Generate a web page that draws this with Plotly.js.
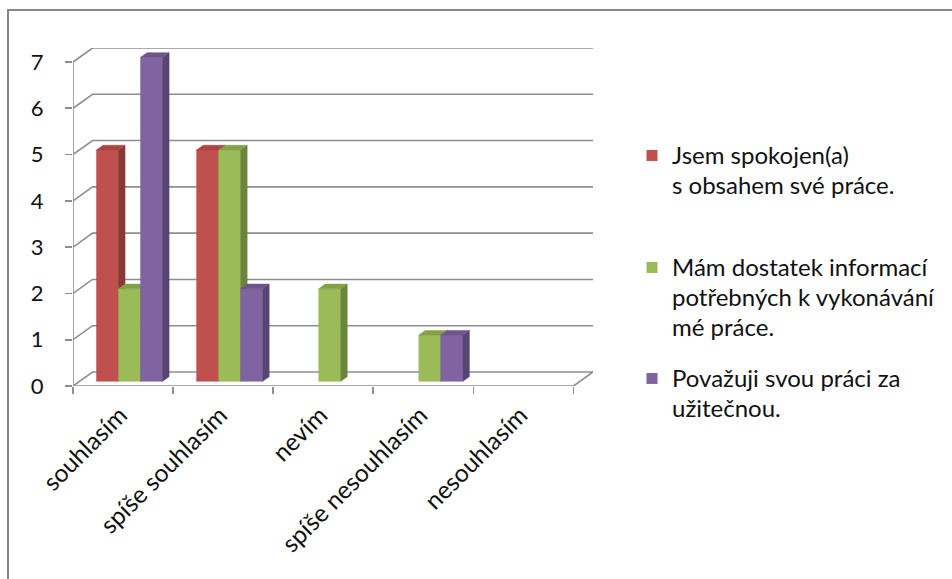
<!DOCTYPE html>
<html>
<head>
<meta charset="utf-8">
<script src="https://cdn.plot.ly/plotly-3.0.1.min.js"></script>
<style>
  html, body { margin: 0; padding: 0; background: #fff; }
  #chart { width: 952px; height: 579px; }
</style>
</head>
<body>
<div id="chart"></div>
<script>
// Answer categories (x axis)
const categories = ['souhlasím', 'spíše souhlasím', 'nevím', 'spíše nesouhlasím', 'nesouhlasím'];

// Series labels (legend, one array entry per text line)
const labelSpokojen = ['Jsem spokojen(a)', 's obsahem své práce.'];
const labelInformace = ['Mám dostatek informací', 'potřebných k vykonávání', 'mé práce.'];
const labelUzitecna = ['Považuji svou práci za', 'užitečnou.'];

// Counts of answers per category
const spokojen = [5, 5, 0, 0, 0];
const informace = [2, 5, 2, 1, 0];
const uzitecna = [7, 2, 0, 1, 0];

// Value axis ticks
const yTicks = [0, 1, 2, 3, 4, 5, 6, 7];

// ---- 3D projection settings (in axis units) ----
const DX = 0.195;   // horizontal shift of the back wall
const DY = 0.3024;  // vertical shift of the back wall
const GROUP = 0.66; // width of a bar cluster inside one category
const FONT = 'Lato, "Open Sans", sans-serif';
const TEXT = '#111';
const GRID = '#8e8e8e';

const series = [
  { lines: labelSpokojen, values: spokojen, front: '#C0504D', top: '#A94542', side: '#8A3836' },
  { lines: labelInformace, values: informace, front: '#9BBB59', top: '#84A049', side: '#6B853C' },
  { lines: labelUzitecna, values: uzitecna, front: '#8064A2', top: '#6D558B', side: '#594573' }
];

const nCat = categories.length;
const xLeft = -0.5, xRight = nCat - 0.5;
const bw = GROUP / series.length;
const dBar = DX / 3, hBar = DY / 3;   // bars stand in the middle third of the floor depth

const traces = [];

// back wall gridlines with their slant on the left side wall
const gx = [], gy = [];
yTicks.forEach(v => {
  gx.push(xLeft, xLeft + DX, xRight + DX, null);
  gy.push(v, v + DY, v + DY, null);
});
traces.push({ x: gx, y: gy, type: 'scatter', mode: 'lines', hoverinfo: 'skip',
  line: { color: GRID, width: 1.6 }, showlegend: false });

// front floor edge, right floor edge and the value axis line
const yMax = yTicks[yTicks.length - 1];
traces.push({
  x: [xLeft, xRight, xRight + DX, null, xLeft, xLeft],
  y: [0, 0, DY, null, 0, yMax],
  type: 'scatter', mode: 'lines', hoverinfo: 'skip', xaxis: 'x2',
  line: { color: GRID, width: 1.6 }, showlegend: false
});

// bars: front, side and top faces as filled polygons, drawn series by series
series.forEach((s, si) => {
  const f = { x: [], y: [] }, sd = { x: [], y: [] }, tp = { x: [], y: [] };
  s.values.forEach((v, ci) => {
    if (!v) return;
    const x0 = ci - GROUP / 2 + si * bw + dBar;
    const x1 = x0 + bw;
    const b = hBar, t = hBar + v;
    f.x.push(x0, x1, x1, x0, x0, null);
    f.y.push(b, b, t, t, b, null);
    sd.x.push(x1, x1 + dBar, x1 + dBar, x1, x1, null);
    sd.y.push(b, b + hBar, t + hBar, t, b, null);
    tp.x.push(x0, x1, x1 + dBar, x0 + dBar, x0, null);
    tp.y.push(t, t, t + hBar, t + hBar, t, null);
  });
  [[f, s.front], [sd, s.side], [tp, s.top]].forEach(([poly, col]) => {
    traces.push({ x: poly.x, y: poly.y, type: 'scatter', mode: 'lines', fill: 'toself',
      fillcolor: col, line: { color: col, width: 0.5 }, hoverinfo: 'skip', showlegend: false });
  });
});

// legend entries, one legend box per series
series.forEach((s, si) => {
  traces.push({
    x: [null], y: [null], type: 'scatter', mode: 'markers',
    name: s.lines.map(l => '<span style="font-size:24px">' + l + '</span>').join('<br>'),
    marker: { symbol: 'square', size: 11, color: s.front },
    legend: si === 0 ? 'legend' : 'legend' + (si + 1),
    showlegend: true, hoverinfo: 'skip'
  });
});

const legendBase = {
  xref: 'container', yref: 'container', xanchor: 'left', yanchor: 'top',
  bgcolor: 'rgba(0,0,0,0)', borderwidth: 0, valign: 'top',
  font: { family: FONT, size: 23, color: TEXT }
};
const W = 952, H = 579;
const legendTops = [134, 246, 357];

const layout = {
  width: W, height: H,
  margin: { l: 73, r: 359, t: 48, b: 193 },
  paper_bgcolor: '#fff', plot_bgcolor: 'rgba(0,0,0,0)',
  hovermode: false,
  font: { family: FONT, size: 24, color: TEXT },
  xaxis: {
    range: [xLeft, xRight + DX], showgrid: false, zeroline: false, showline: false,
    tickmode: 'array', tickvals: categories.map((c, i) => i - 0.5).concat([xRight]),
    showticklabels: false, ticks: 'outside', ticklen: 7, tickwidth: 1.6, tickcolor: GRID,
    fixedrange: true
  },
  xaxis2: {
    overlaying: 'x', anchor: 'y', side: 'bottom',
    range: [xLeft, xRight + DX], showgrid: false, zeroline: false, showline: false,
    tickmode: 'array', tickvals: categories.map((c, i) => i - 0.03), ticktext: categories,
    tickangle: -45, ticks: '', ticklabelstandoff: 9,
    tickfont: { family: FONT, size: 24.5, color: TEXT }, fixedrange: true
  },
  yaxis: {
    range: [0, yMax + DY], showgrid: false, zeroline: false, showline: false,
    tickmode: 'array', tickvals: yTicks, ticktext: yTicks.map(String),
    ticks: 'outside', ticklen: 7, tickwidth: 1.6, tickcolor: GRID,
    ticklabelstandoff: 17,
    tickfont: { family: FONT, size: 22, color: TEXT }, fixedrange: true
  },
  legend: Object.assign({}, legendBase, { x: 632 / W, y: 1 - legendTops[0] / H }),
  legend2: Object.assign({}, legendBase, { x: 632 / W, y: 1 - legendTops[1] / H }),
  legend3: Object.assign({}, legendBase, { x: 632 / W, y: 1 - legendTops[2] / H }),
  shapes: [{
    type: 'rect', xref: 'paper', yref: 'paper', layer: 'below',
    x0: (8 - 73) / 520, x1: (970 - 73) / 520,
    y0: (386 - 600) / 338, y1: (386 - 10) / 338,
    line: { color: '#878787', width: 2 }, fillcolor: 'rgba(0,0,0,0)'
  }]
};

Plotly.newPlot('chart', traces, layout, { displayModeBar: false, staticPlot: true });
</script>
</body>
</html>
